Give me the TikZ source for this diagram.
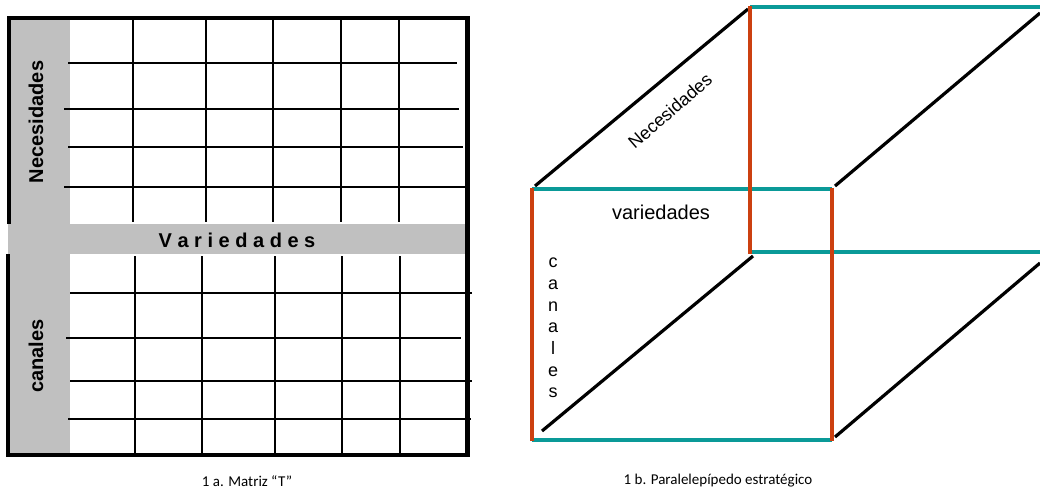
\documentclass[tikz,border=0pt]{standalone}
\usepackage{fontspec}
\setmainfont{Liberation Sans}
\newfontfamily\captionfont{Carlito}
\usetikzlibrary{positioning, calc}
\definecolor{edgered}{HTML}{CC4010}
\definecolor{edgeteal}{HTML}{0A9A98}
\definecolor{bandgray}{HTML}{C0C0C0}
\tikzset{
  gridline/.style={line width=2.2pt, black},
  frameline/.style={line width=4.5pt, black},
  band/.style={fill=bandgray, draw=none},
  redge/.style={line width=3.2pt, edgered},
  tedge/.style={line width=3.2pt, edgeteal},
  dedge/.style={line width=3.2pt, black},
  caption/.style={font=\captionfont\fontsize{15}{17}\selectfont}
}

\begin{document}
\begin{tikzpicture}[x=1pt, y=-1pt]
        \useasboundingbox (0,0) rectangle (1040,493);

        % Matriz T: bandas grises
        \fill [band] (10,20) rectangle (70,224);
        \fill [band] (8,224) rectangle (467,254);
        \fill [band] (10,254) rectangle (70,453);

        % Cuadricula superior
        \foreach \x in {133,206,273,341,399}
            \draw [gridline] (\x,20) -- (\x,222);
        \foreach \y/\a/\b in {63/68/457, 109/64/459, 147/68/463, 187/64/466}
            \draw [gridline] (\a,\y) -- (\b,\y);

        % Cuadricula inferior
        \foreach \x in {135,202,275,342,400}
            \draw [gridline] (\x,256) -- (\x,453);
        \foreach \y/\a/\b in {293/70/472, 338/66/461, 381/70/472, 419/68/471}
            \draw [gridline] (\a,\y) -- (\b,\y);

        % Marco
        \draw [frameline] (9,224) -- (9,18) -- (467.5,18) -- (467.5,455) -- (8,455) -- (8,254);

        % Textos de la matriz
        \node (nec) [rotate=90, font=\bfseries\fontsize{20}{22}\selectfont] at (36,122) {Necesidades};
        \node (can) [rotate=90, font=\bfseries\fontsize{20}{22}\selectfont] at (36,356) {canales};
        \node (var) [font=\bfseries\fontsize{20}{22}\selectfont] at (237,240) {V a r i e d a d e s};
        \node (capa) [caption] at (247,481) {1 a. Matriz “T”};

        % Paralelepipedo: aristas diagonales
        \draw [dedge] (535,186) -- (748,9);
        \draw [dedge] (835,186) -- (1040,13);
        \draw [dedge] (542,431) -- (753,256);
        \draw [dedge] (835,437) -- (1040,263);

        % Caras (horizontales en verde azulado, verticales en rojo)
        \draw [tedge] (532,189) -- (832,189);
        \draw [tedge] (532,440) -- (832,440);
        \draw [tedge] (750,7) -- (1040,7);
        \draw [tedge] (750,252) -- (1040,252);
        \draw [redge] (532,188) -- (532,441);
        \draw [redge] (832,188) -- (832,441);
        \draw [redge] (750,6) -- (750,254);

        % Textos del paralelepipedo
        \node (necb) [rotate=41, font=\fontsize{18}{20}\selectfont] at (670,111) {Necesidades};
        \node (varb) [font=\fontsize{20}{22}\selectfont] at (661,212) {variedades};
        \node (canb) [font=\fontsize{18}{21.7}\selectfont, align=center] at (553,328)
            {c\\a\\n\\a\\l\\e\\s};
        \node (capb) [caption] at (718,481) {1 b. Paralelepípedo estratégico};

    \end{tikzpicture}
\end{document}
